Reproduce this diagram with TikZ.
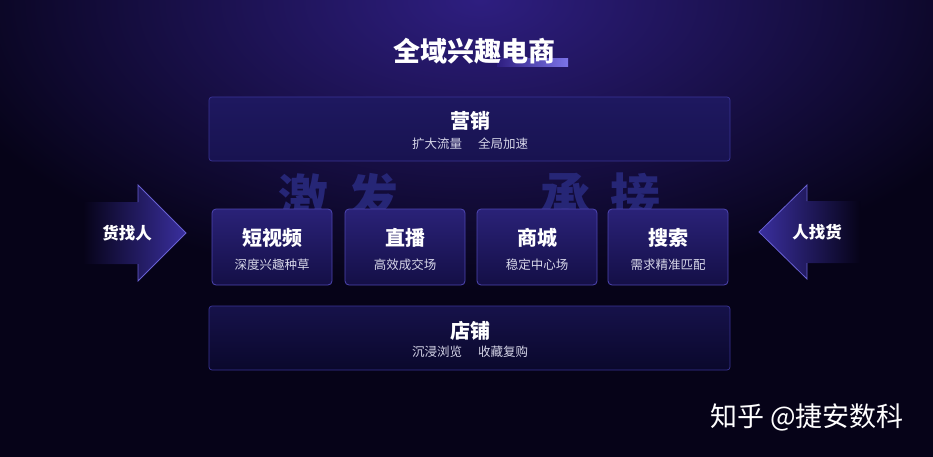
\documentclass[tikz,border=0pt]{standalone}
\usepackage{fontspec}
\setmainfont{Noto Sans CJK SC}
\usetikzlibrary{positioning}

\definecolor{bgdark}{RGB}{6,3,24}
\definecolor{glow}{RGB}{46,30,128}
\definecolor{cardtop}{RGB}{42,34,120}
\definecolor{cardbot}{RGB}{20,15,70}
\definecolor{cardline}{RGB}{78,70,178}
\definecolor{bandtop}{RGB}{30,24,96}
\definecolor{bandbot}{RGB}{24,19,80}
\definecolor{shoptop}{RGB}{22,18,74}
\definecolor{shopbot}{RGB}{10,8,44}
\definecolor{bandline}{RGB}{58,52,150}
\definecolor{ghost}{RGB}{38,38,118}
\definecolor{arrowfill}{RGB}{58,47,158}
\definecolor{arrowline}{RGB}{104,96,210}
\definecolor{barhi}{RGB}{124,116,232}
\definecolor{subgray}{RGB}{214,214,232}

\tikzset{
  card/.style={draw=cardline, line width=0.8pt, rounded corners=4pt,
    top color=cardtop, bottom color=cardbot,
    minimum width=120pt, minimum height=76pt},
  band/.style={draw=bandline, line width=0.7pt, rounded corners=3pt,
    minimum width=521pt, minimum height=64pt},
  head/.style={text=white, font=\bfseries\fontsize{20}{20}\selectfont},
  sub/.style={text=subgray, font=\fontsize{12.5}{13}\selectfont},
  ghosttext/.style={text=ghost, font=\bfseries\fontsize{50}{50}\selectfont},
  arrowtext/.style={text=white, font=\bfseries\fontsize{16.5}{17}\selectfont},
}

\begin{document}
\begin{tikzpicture}[x=1pt,y=-1pt]
  \useasboundingbox (0,0) rectangle (933,457);

  % background with a glow at the top
  \fill[bgdark] (0,0) rectangle (933,457);
  \begin{scope}
    \clip (0,0) rectangle (933,457);
    \shade[inner color=glow, outer color=bgdark] (480,0) ellipse (560 and 290);
  \end{scope}

  % title
  \shade[left color=bgdark!0!glow, right color=barhi] (497,59) rectangle (568,67);
  \node[text=white, font=\bfseries\fontsize{27}{27}\selectfont] (title) at (474,51) {全域兴趣电商};

  % big words behind the cards
  \node[ghosttext] (jifa) at (338,197) {激\hspace{20pt}发};
  \node[ghosttext] (chengjie) at (600,197) {承\hspace{20pt}接};

  % top band
  \node[band, top color=bandtop, bottom color=bandbot] (yx) at (469.5,129) {};
  \node[head] (yxt) at (470,121) {营销};
  \node[sub] (yxs) at (470,144) {扩大流量\hspace{16pt}全局加速};

  % cards
  \node[card] (dsp) at (272,247) {};
  \node[card] (zb) at (405,247) {};
  \node[card] (sc) at (537,247) {};
  \node[card] (ss) at (668,247) {};

  \node[head] (dspt) at (272,238) {短视频};
  \node[sub] (dsps) at (272,265) {深度兴趣种草};
  \node[head] (zbt) at (405,238) {直播};
  \node[sub] (zbs) at (405,265) {高效成交场};
  \node[head] (sct) at (537,238) {商城};
  \node[sub] (scs) at (537,265) {稳定中心场};
  \node[head] (sst) at (668,238) {搜索};
  \node[sub] (sss) at (668,265) {需求精准匹配};

  % bottom band
  \node[band, top color=shoptop, bottom color=shopbot] (dp) at (469.5,338) {};
  \node[head] (dpt) at (470,331) {店铺};
  \node[sub] (dps) at (470,352) {沉浸浏览\hspace{16pt}收藏复购};

  % side arrows
  \shade[left color=bgdark, right color=arrowfill]
    (83,202) -- (138,202) -- (138,185) -- (186,233) -- (138,281) -- (138,264) -- (83,264) -- cycle;
  \draw[arrowline, line width=0.8pt] (138,202) -- (138,185) -- (186,233) -- (138,281) -- (138,264);
  \node[arrowtext] (hzr) at (127,233) {货找人};

  \shade[left color=arrowfill, right color=bgdark]
    (860,201) -- (807,201) -- (807,185) -- (759,232) -- (807,279) -- (807,263) -- (860,263) -- cycle;
  \draw[arrowline, line width=0.8pt] (807,201) -- (807,185) -- (759,232) -- (807,279) -- (807,263);
  \node[arrowtext] (rzh) at (817,232) {人找货};

  % watermark
  \node[text=white, font=\fontsize{27}{27}\selectfont] (mark) at (807,417) {知乎 @捷安数科};
\end{tikzpicture}
\end{document}
